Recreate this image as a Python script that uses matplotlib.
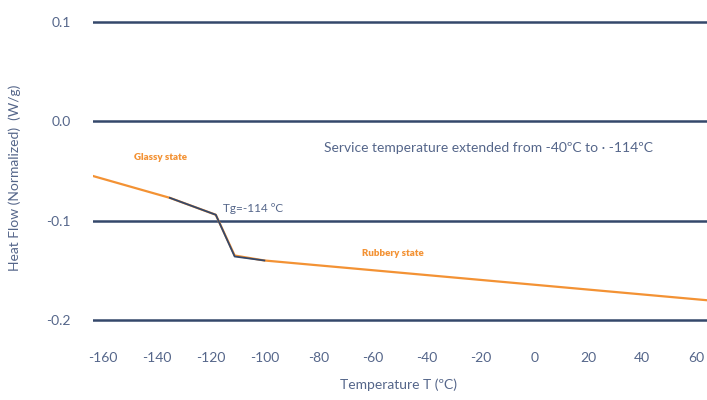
import matplotlib
matplotlib.use('Agg')
import matplotlib.pyplot as plt

# DSC curve
temp_orange = [-163.5, -135, -118, -111, -100, 64]
flow_orange = [-0.055, -0.077, -0.094, -0.135, -0.140, -0.180]
temp_dark = [-135, -118, -111, -100]
flow_dark = [-0.077, -0.094, -0.136, -0.140]

x_ticks = [-160, -140, -120, -100, -80, -60, -40, -20, 0, 20, 40, 60]
y_ticks = [0.1, 0.0, -0.1, -0.2]

ORANGE = '#f39234'
NAVY = '#34486b'
LABEL = '#55668a'

plt.rcParams['font.family'] = ['Lato', 'DejaVu Sans']
plt.rcParams['axes.unicode_minus'] = False

fig = plt.figure(figsize=(7.07, 4.0), dpi=100)
ax = fig.add_axes([0.1315, 0.15, 0.8685, 0.82])

for y in y_ticks:
    ax.axhline(y, color=NAVY, lw=1.8, zorder=1)

ax.plot(temp_orange, flow_orange, color=ORANGE, lw=1.6, zorder=2)
ax.plot(temp_dark, flow_dark, color=NAVY, lw=1.3, zorder=3)

ax.set_xlim(-163.5, 64)
ax.set_ylim(-0.22, 0.11)
ax.set_xticks(x_ticks)
ax.set_yticks(y_ticks)
ax.set_yticklabels(['{:.1f}'.format(v) for v in y_ticks])
ax.tick_params(length=0, labelsize=10, colors=LABEL)
ax.tick_params(axis='x', pad=9)
ax.tick_params(axis='y', pad=16)
for s in ax.spines.values():
    s.set_visible(False)

ax.text(-138.5, -0.036, 'Glassy state', color=ORANGE, fontsize=7,
        fontweight='heavy', ha='center', va='center')
ax.text(-115.5, -0.088, 'Tg=-114 ºC', color=LABEL, fontsize=8.5,
        ha='left', va='center')
ax.text(-78, -0.027, 'Service temperature extended from -40ºC to · -114ºC',
        color=LABEL, fontsize=10, ha='left', va='center')
ax.text(-64, -0.133, 'Rubbery state', color=ORANGE, fontsize=7,
        fontweight='heavy', ha='left', va='center')

fig.text(398 / 707, 1 - 385 / 400, 'Temperature T (ºC)', color=LABEL,
         fontsize=10, ha='center', va='center')
fig.text(15 / 707, 1 - 178 / 400, 'Heat Flow (Normalized)  (W/g)', color=LABEL,
         fontsize=10, ha='center', va='center', rotation=90)

plt.savefig('out.png', dpi=100)
